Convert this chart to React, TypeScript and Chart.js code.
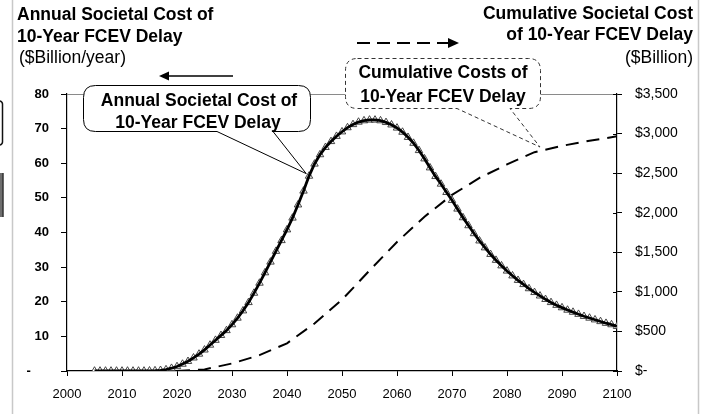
import { useEffect, useRef } from "react";
import { Chart, registerables } from "chart.js";

Chart.register(...registerables);

const FONT = "'Liberation Sans', Arial, Helvetica, sans-serif";

// Annual societal cost ($Billion/year), one point per year
const annualYears = [
  2005, 2006, 2007, 2008, 2009, 2010, 2011, 2012, 2013, 2014,
  2015, 2016, 2017, 2018, 2019, 2020, 2021, 2022, 2023, 2024,
  2025, 2026, 2027, 2028, 2029, 2030, 2031, 2032, 2033, 2034,
  2035, 2036, 2037, 2038, 2039, 2040, 2041, 2042, 2043, 2044,
  2045, 2046, 2047, 2048, 2049, 2050, 2051, 2052, 2053, 2054,
  2055, 2056, 2057, 2058, 2059, 2060, 2061, 2062, 2063, 2064,
  2065, 2066, 2067, 2068, 2069, 2070, 2071, 2072, 2073, 2074,
  2075, 2076, 2077, 2078, 2079, 2080, 2081, 2082, 2083, 2084,
  2085, 2086, 2087, 2088, 2089, 2090, 2091, 2092, 2093, 2094,
  2095, 2096, 2097, 2098, 2099, 2100,
];
const annualCost = [
  0, 0, 0, 0, 0, 0, 0, 0, 0, 0,
  0.05, 0.1, 0.2, 0.4, 0.8, 1.3, 2.0, 2.8, 3.8, 4.9,
  6.1, 7.5, 8.9, 10.3, 11.7, 13.4, 15.3, 17.4, 19.8, 22.5,
  25.4, 28.4, 31.5, 34.6, 37.7, 40.8, 44.2, 48.0, 52.0, 56.3,
  59.8, 62.5, 64.6, 66.3, 67.8, 69.1, 70.3, 71.2, 71.9, 72.3,
  72.5, 72.5, 72.3, 71.8, 71.1, 70.2, 69.0, 67.5, 65.8, 63.7,
  61.3, 58.7, 56.2, 54.0, 51.6, 49.3, 46.8, 44.3, 42.0, 39.7,
  37.6, 35.6, 33.7, 32.0, 30.4, 28.9, 27.5, 26.2, 25.0, 23.8,
  22.7, 21.7, 20.7, 19.8, 19.0, 18.3, 17.6, 17.0, 16.4, 15.8,
  15.3, 14.8, 14.3, 13.8, 13.4, 12.9,
];

// Cumulative societal cost ($Billion)
const cumulativeYears = [
  2020, 2025, 2030, 2035, 2040, 2045, 2050, 2055, 2060,
  2065, 2070, 2075, 2080, 2085, 2090, 2095, 2100,
];
const cumulativeCost = [
  0, 20, 95, 200, 350, 600, 900, 1270, 1630,
  1950, 2225, 2440, 2610, 2765, 2845, 2910, 2965,
];

const xTicks = { min: 2000, max: 2100, step: 10 };
const leftTicks = { min: 0, max: 80, step: 10 };
const rightTicks = { min: 0, max: 3500, step: 500 };

const leftTitle = ["Annual Societal Cost of", "10-Year FCEV Delay"];
const leftUnit = "($Billion/year)";
const rightTitle = ["Cumulative Societal Cost", "of 10-Year FCEV Delay"];
const rightUnit = "($Billion)";
const annualCallout = ["Annual Societal Cost of", "10-Year FCEV Delay"];
const cumulativeCallout = ["Cumulative Costs of", "10-Year FCEV Delay"];
// callout pointer targets (year, value)
const annualTip = { x: 2043.5, y: 57 };
const cumulativeTip = { x: 2086, y: 2830 };

function roundedCallout(
  ctx: CanvasRenderingContext2D,
  l: number, t: number, r: number, b: number, rad: number,
  w1: number, w2: number, tx: number, ty: number
) {
  ctx.beginPath();
  ctx.moveTo(l + rad, t);
  ctx.lineTo(r - rad, t);
  ctx.quadraticCurveTo(r, t, r, t + rad);
  ctx.lineTo(r, b - rad);
  ctx.quadraticCurveTo(r, b, r - rad, b);
  ctx.lineTo(w2, b);
  ctx.lineTo(tx, ty);
  ctx.lineTo(w1, b);
  ctx.lineTo(l + rad, b);
  ctx.quadraticCurveTo(l, b, l, b - rad);
  ctx.lineTo(l, t + rad);
  ctx.quadraticCurveTo(l, t, l + rad, t);
  ctx.closePath();
}

const decorPlugin = {
  id: "decor",
  beforeDatasetsDraw(chart: any) {
    const { ctx, chartArea: a } = chart;
    ctx.save();
    ctx.strokeStyle = "#8a8a8a";
    ctx.lineWidth = 1;
    ctx.beginPath();
    ctx.moveTo(a.left, a.top + 0.5);
    ctx.lineTo(a.right, a.top + 0.5);
    ctx.stroke();
    // inner half of the right-axis tick marks
    const yR = chart.scales.yR;
    ctx.strokeStyle = "#000";
    ctx.beginPath();
    yR.ticks.forEach((t: any) => {
      const y = Math.round(yR.getPixelForValue(t.value)) + 0.5;
      ctx.moveTo(a.right - 4, y);
      ctx.lineTo(a.right, y);
    });
    ctx.stroke();
    ctx.restore();
  },
  afterDraw(chart: any) {
    const { ctx } = chart;
    const x = chart.scales.x;
    const yL = chart.scales.yL;
    const yR = chart.scales.yR;
    ctx.save();

    // frame
    ctx.strokeStyle = "#c8c8c8";
    ctx.lineWidth = 1.5;
    ctx.beginPath();
    ctx.moveTo(12.5, 0);
    ctx.lineTo(12.5, 414);
    ctx.moveTo(698.5, 0);
    ctx.lineTo(698.5, 414);
    ctx.stroke();
    // cut-off elements at left edge
    ctx.strokeStyle = "#111";
    ctx.lineWidth = 1.5;
    ctx.beginPath();
    ctx.moveTo(-4, 100.5);
    ctx.quadraticCurveTo(2.5, 100.5, 2.5, 104);
    ctx.lineTo(2.5, 142);
    ctx.quadraticCurveTo(2.5, 145.5, -4, 145.5);
    ctx.stroke();
    ctx.fillStyle = "#6e6e6e";
    ctx.fillRect(0, 173, 3, 44);
    ctx.strokeStyle = "#333";
    ctx.beginPath();
    ctx.moveTo(3, 173);
    ctx.lineTo(3, 217);
    ctx.stroke();

    // titles
    ctx.fillStyle = "#000";
    ctx.textBaseline = "alphabetic";
    ctx.font = `bold 17.5px ${FONT}`;
    ctx.textAlign = "left";
    ctx.fillText(leftTitle[0], 17, 20);
    ctx.fillText(leftTitle[1], 17, 41.5);
    ctx.textAlign = "right";
    ctx.fillText(rightTitle[0], 693, 18.5);
    ctx.fillText(rightTitle[1], 693, 39.5);
    ctx.font = `17.5px ${FONT}`;
    ctx.textAlign = "left";
    ctx.fillText(leftUnit, 19, 63);
    ctx.textAlign = "right";
    ctx.fillText(rightUnit, 693, 63);

    // solid arrow (left)
    ctx.strokeStyle = "#000";
    ctx.fillStyle = "#000";
    ctx.lineWidth = 1.5;
    ctx.beginPath();
    ctx.moveTo(233, 76);
    ctx.lineTo(166, 76);
    ctx.stroke();
    ctx.beginPath();
    ctx.moveTo(159, 76);
    ctx.lineTo(169, 71.5);
    ctx.lineTo(169, 80.5);
    ctx.closePath();
    ctx.fill();

    // dashed arrow (right)
    ctx.lineWidth = 2;
    ctx.setLineDash([13, 7]);
    ctx.beginPath();
    ctx.moveTo(357, 43);
    ctx.lineTo(448, 43);
    ctx.stroke();
    ctx.setLineDash([]);
    ctx.beginPath();
    ctx.moveTo(459, 43);
    ctx.lineTo(448, 38);
    ctx.lineTo(448, 48);
    ctx.closePath();
    ctx.fill();

    // annual callout
    const t1x = x.getPixelForValue(annualTip.x);
    const t1y = yL.getPixelForValue(annualTip.y);
    roundedCallout(ctx, 83.5, 85.5, 310.5, 131.5, 12, 217, 273, t1x, t1y);
    ctx.fillStyle = "#fff";
    ctx.fill();
    ctx.strokeStyle = "#000";
    ctx.lineWidth = 1;
    ctx.stroke();
    ctx.fillStyle = "#000";
    ctx.font = `bold 17.5px ${FONT}`;
    ctx.textAlign = "center";
    ctx.fillText(annualCallout[0], 199, 105.5);
    ctx.fillText(annualCallout[1], 198, 127.5);

    // cumulative callout
    const t2x = x.getPixelForValue(cumulativeTip.x);
    const t2y = yR.getPixelForValue(cumulativeTip.y);
    roundedCallout(ctx, 345.5, 58.5, 540.5, 108.5, 12, 457, 510, t2x, t2y);
    ctx.fillStyle = "#fff";
    ctx.fill();
    ctx.strokeStyle = "#333";
    ctx.lineWidth = 1;
    ctx.setLineDash([4, 3]);
    ctx.stroke();
    ctx.setLineDash([]);
    ctx.fillStyle = "#000";
    ctx.fillText(cumulativeCallout[0], 443, 78);
    ctx.fillText(cumulativeCallout[1], 443, 102);

    ctx.restore();
  },
};

export default function App() {
  const ref = useRef<HTMLCanvasElement | null>(null);

  useEffect(() => {
    if (!ref.current) return;
    const annualPts = annualYears.map((yr, i) => ({ x: yr, y: annualCost[i] }));
    const cumPts = cumulativeYears.map((yr, i) => ({ x: yr, y: cumulativeCost[i] }));
    const chart = new Chart(ref.current, {
      type: "line",
      data: {
        datasets: [
          {
            label: "Annual",
            data: annualPts,
            yAxisID: "yL",
            borderColor: "#000",
            borderWidth: 2.8,
            pointRadius: 0,
            fill: false,
            order: 0,
          },
          {
            label: "Annual markers",
            data: annualPts,
            yAxisID: "yL",
            showLine: false,
            pointStyle: "triangle",
            pointRadius: 4.3,
            pointBackgroundColor: "#fff",
            pointBorderColor: "#333",
            pointBorderWidth: 0.9,
            order: 1,
          },
          {
            label: "Cumulative",
            data: cumPts,
            yAxisID: "yR",
            borderColor: "#000",
            borderWidth: 2,
            borderDash: [13, 8],
            pointRadius: 0,
            fill: false,
            order: 2,
          },
        ],
      },
      options: {
        responsive: false,
        animation: false,
        devicePixelRatio: 1,
        layout: { padding: { top: 94, left: 0, right: 0, bottom: 0 } },
        plugins: { legend: { display: false }, tooltip: { enabled: false }, title: { display: false } },
        scales: {
          x: {
            type: "linear",
            position: "bottom",
            min: xTicks.min,
            max: xTicks.max,
            ticks: {
              stepSize: xTicks.step,
              autoSkip: false,
              maxRotation: 0,
              color: "#000",
              padding: 11,
              font: { family: FONT, size: 13 },
              callback: (v: any) => String(v),
            },
            grid: { drawOnChartArea: false, drawTicks: true, tickLength: 5, color: "#000" },
            border: { color: "#000", width: 1.2 },
            afterFit: (s: any) => {
              s.height = 43;
            },
          },
          yL: {
            type: "linear",
            position: "left",
            min: leftTicks.min,
            max: leftTicks.max,
            ticks: {
              stepSize: leftTicks.step,
              color: "#000",
              padding: 12,
              font: { family: FONT, size: 13, weight: "bold" },
              callback: (v: any) => (v === 0 ? "-     " : String(v)),
            },
            grid: { drawOnChartArea: false, drawTicks: true, tickLength: 6, color: "#000" },
            border: { color: "#000", width: 1.2 },
            afterFit: (s: any) => {
              s.width = 67;
            },
          },
          yR: {
            type: "linear",
            position: "right",
            min: rightTicks.min,
            max: rightTicks.max,
            ticks: {
              stepSize: rightTicks.step,
              color: "#000",
              padding: 13,
              font: { family: FONT, size: 14 },
              callback: (v: any) => (v === 0 ? "$-" : "$" + Number(v).toLocaleString("en-US")),
            },
            grid: { drawOnChartArea: false, drawTicks: true, tickLength: 5, color: "#000" },
            border: { color: "#000", width: 1.2 },
            afterFit: (s: any) => {
              s.width = 708 - 617;
            },
          },
        },
      },
      plugins: [decorPlugin],
    } as any);
    return () => chart.destroy();
  }, []);

  return (
    <div style={{ position: "fixed", left: 0, top: 0, width: 708, height: 414, background: "#fff" }}>
      <canvas ref={ref} width={708} height={414} style={{ display: "block" }} />
    </div>
  );
}
